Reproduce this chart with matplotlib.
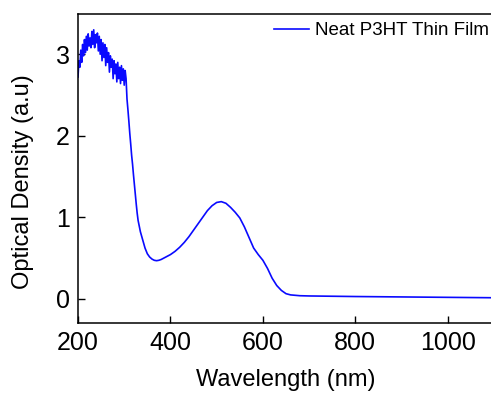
import numpy as np
import matplotlib
matplotlib.use('Agg')
import matplotlib.pyplot as plt

plt.rcParams['font.family'] = 'Liberation Sans'

# noisy UV part, 2 nm steps 200-316 nm
wl_uv = list(range(200, 318, 2))
od_uv = [2.72, 2.92, 2.84, 3.05, 2.90, 3.12, 2.98, 3.18, 3.02, 3.22,
         3.05, 3.25, 3.10, 3.20, 3.08, 3.28, 3.12, 3.30, 3.08, 3.24,
         3.14, 3.26, 3.04, 3.22, 3.00, 3.18, 2.92, 3.14, 2.96, 3.12,
         2.86, 3.08, 2.90, 3.02, 2.78, 2.98, 2.84, 2.94, 2.70, 2.92,
         2.76, 2.88, 2.66, 2.90, 2.70, 2.84, 2.64, 2.86, 2.68, 2.82,
         2.62, 2.80, 2.70, 2.45, 2.32, 2.18, 2.03, 1.90, 1.76]

# smooth visible / NIR part
wl_vis = [318, 320, 322, 324, 326, 328, 330, 335, 340, 345, 350, 355, 360,
          365, 370, 375, 380, 390, 400, 410, 420, 430, 440, 450, 460, 470,
          480, 490, 500, 510, 520, 530, 540, 550, 560, 570, 580, 590, 600,
          610, 620, 630, 640, 650, 660, 680, 700, 800, 900, 1000, 1100]
od_vis = [1.65, 1.52, 1.40, 1.28, 1.16, 1.05, 0.96, 0.82, 0.72, 0.62, 0.55,
          0.51, 0.485, 0.47, 0.465, 0.47, 0.48, 0.51, 0.54, 0.58, 0.63, 0.69,
          0.76, 0.84, 0.92, 1.00, 1.08, 1.14, 1.18, 1.19, 1.17, 1.12, 1.06,
          0.99, 0.88, 0.75, 0.62, 0.54, 0.47, 0.37, 0.25, 0.16, 0.10, 0.06,
          0.045, 0.035, 0.032, 0.025, 0.02, 0.015, 0.01]

wl = wl_uv + wl_vis
od = od_uv + od_vis

fig = plt.figure(figsize=(4.91, 3.96), dpi=100)
ax = fig.add_axes([78/491, 73/396, 416/491, 309.5/396])
ax.plot(wl, od, color='#0a0aff', lw=1.2, label='Neat P3HT Thin Film')

ax.set_xlim(200, 1100)
ax.set_ylim(-0.3, 3.5)
ax.set_xticks([200, 400, 600, 800, 1000])
ax.set_yticks([0, 1, 2, 3])
ax.tick_params(direction='in', length=5, width=1, labelsize=18, pad=6)
for s in ax.spines.values():
    s.set_linewidth(1.1)

ax.set_xlabel('Wavelength (nm)', fontsize=17, labelpad=10)
ax.set_ylabel('Optical Density (a.u)', fontsize=17)
ax.yaxis.set_label_coords(-0.105, 0.456)

ax.legend(loc='upper left', bbox_to_anchor=(0.43, 1.027), frameon=False,
          fontsize=13.5, handlelength=1.9, handletextpad=0.3)

plt.savefig('out.png', dpi=100)
